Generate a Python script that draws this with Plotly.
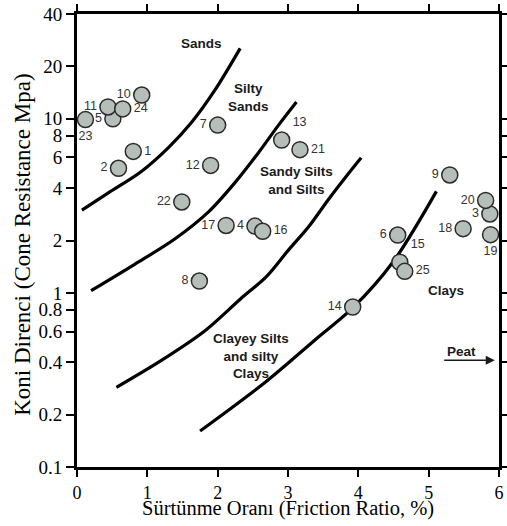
import numpy as np
import plotly.graph_objects as go

# ---- data ----
pt_ids = ["1", "2", "3", "4", "5", "6", "7", "8", "9", "10", "11", "12", "13",
          "14", "15", "16", "17", "18", "19", "20", "21", "22", "23", "24", "25"]
friction = [0.80, 0.59, 5.87, 2.53, 0.51, 4.56, 2.00, 1.74, 5.30, 0.92, 0.44, 1.90, 2.91,
            3.92, 4.59, 2.64, 2.12, 5.49, 5.88, 5.81, 3.17, 1.49, 0.12, 0.65, 4.66]
cone = [6.5, 5.2, 2.84, 2.42, 10.0, 2.15, 9.2, 1.17, 4.76, 13.7, 11.7, 5.4, 7.55,
        0.83, 1.50, 2.26, 2.44, 2.34, 2.16, 3.40, 6.65, 3.33, 9.9, 11.4, 1.33]
label_pos = ["middle right", "middle left", "middle left", "middle left", "middle left",
             "middle left", "middle left", "middle left", "middle left", "middle left",
             "middle left", "middle left", "top right", "middle left", "top right",
             "middle right", "middle left", "middle left", "bottom center", "middle left",
             "middle right", "middle left", "bottom center", "middle right", "middle right"]

# boundary curves (friction ratio %, cone resistance MPa)
b1_x = [0.07, 0.44, 0.92, 1.30, 1.63, 1.96, 2.32]
b1_y = [2.99, 3.74, 5.0, 6.83, 9.55, 14.6, 25.4]
b2_x = [0.20, 0.82, 1.39, 1.87, 2.24, 2.58, 2.86, 3.12]
b2_y = [1.03, 1.46, 2.04, 2.92, 4.27, 6.39, 9.14, 12.5]
b3_x = [0.56, 1.20, 1.82, 2.32, 2.70, 3.00, 3.29, 3.57, 3.81, 4.04]
b3_y = [0.287, 0.41, 0.607, 0.92, 1.25, 1.75, 2.39, 3.42, 4.57, 5.97]
b4_x = [1.75, 2.69, 3.40, 3.92, 4.49, 5.11]
b4_y = [0.161, 0.31, 0.544, 0.82, 1.50, 3.83]

zone_names = ["Sands", "Silty<br>Sands", "Sandy Silts<br>and Silts",
              "Clayey Silts<br>and silty<br>Clays", "Clays", "Peat"]
zone_x = [1.77, 2.44, 3.12, 2.48, 5.24, 5.46]
zone_y = [27, 13.3, 4.4, 0.433, 1.03, 0.46]

peat_arrow_x = [5.20, 5.94]
peat_arrow_y = 0.41

y_ticks = [0.1, 0.2, 0.4, 0.6, 0.8, 1, 2, 4, 6, 8, 10, 20, 40]
y_ticktext = ["0.1", "0.2", "0.4", "0.6", "0.8", "1", "2", "4", "6", "8", "10", "20", "40"]
x_ticks = [0, 1, 2, 3, 4, 5, 6]

x_title = "Sürtünme Oranı (Friction Ratio, %)"
y_title = "Koni Direnci (Cone Resistance Mpa)"

fig = go.Figure()

for bx, by in [(b1_x, b1_y), (b2_x, b2_y), (b3_x, b3_y), (b4_x, b4_y)]:
    fig.add_trace(go.Scatter(x=bx, y=by, mode="lines",
                             line=dict(color="black", width=3.2, shape="spline", smoothing=0.9),
                             hoverinfo="skip", showlegend=False))

fig.add_trace(go.Scatter(
    x=friction, y=cone, mode="markers+text", text=pt_ids, textposition=label_pos,
    textfont=dict(family="Liberation Sans", size=12.5, color="#333333"),
    marker=dict(size=16, color="#b5beb9", line=dict(color="#2b2b2b", width=1.5)),
    cliponaxis=False, showlegend=False))

for name, zx, zy in zip(zone_names, zone_x, zone_y):
    fig.add_annotation(x=zx, y=np.log10(zy), text="<b>" + name + "</b>", showarrow=False,
                       font=dict(family="Liberation Sans", size=13.5, color="#1a1a1a"),
                       align="center")

fig.add_annotation(x=peat_arrow_x[1], y=np.log10(peat_arrow_y),
                   ax=peat_arrow_x[0], ay=np.log10(peat_arrow_y),
                   xref="x", yref="y", axref="x", ayref="y", text="",
                   showarrow=True, arrowhead=2, arrowsize=1.2, arrowwidth=1.5,
                   arrowcolor="#1a1a1a")

# axis titles placed as paper annotations
fig.add_annotation(xref="paper", yref="paper", x=0.5, y=-0.092, text=x_title,
                   showarrow=False, xanchor="center", yanchor="middle",
                   font=dict(family="Liberation Serif", size=20.5, color="black"))
fig.add_annotation(xref="paper", yref="paper", x=-0.131, y=0.49, text=y_title,
                   showarrow=False, xanchor="center", yanchor="middle", textangle=-90,
                   font=dict(family="Liberation Serif", size=23, color="black"))

axis_font = dict(family="Liberation Serif", size=19, color="black")
fig.update_xaxes(range=[0, 6], tickvals=x_ticks, ticks="outside", ticklen=7, tickwidth=2,
                 tickcolor="black", showline=True, linewidth=3, linecolor="black",
                 mirror="ticks", showgrid=False, zeroline=False,
                 tickfont=dict(family="Liberation Serif", size=18, color="black"),
                 automargin=False)
fig.update_yaxes(type="log", range=[-1, np.log10(40)], tickvals=y_ticks, ticktext=y_ticktext,
                 ticks="outside", ticklen=8, tickwidth=2, tickcolor="black",
                 showline=True, linewidth=3, linecolor="black", mirror="ticks",
                 showgrid=False, zeroline=False, tickfont=axis_font, automargin=False)
fig.update_layout(width=507, height=526, margin=dict(l=77, r=8, t=14, b=59),
                  plot_bgcolor="white", paper_bgcolor="white")

fig.write_html("out.html", config={"displayModeBar": False},
               post_script="document.body.style.margin='0';document.body.style.overflow='hidden';")
